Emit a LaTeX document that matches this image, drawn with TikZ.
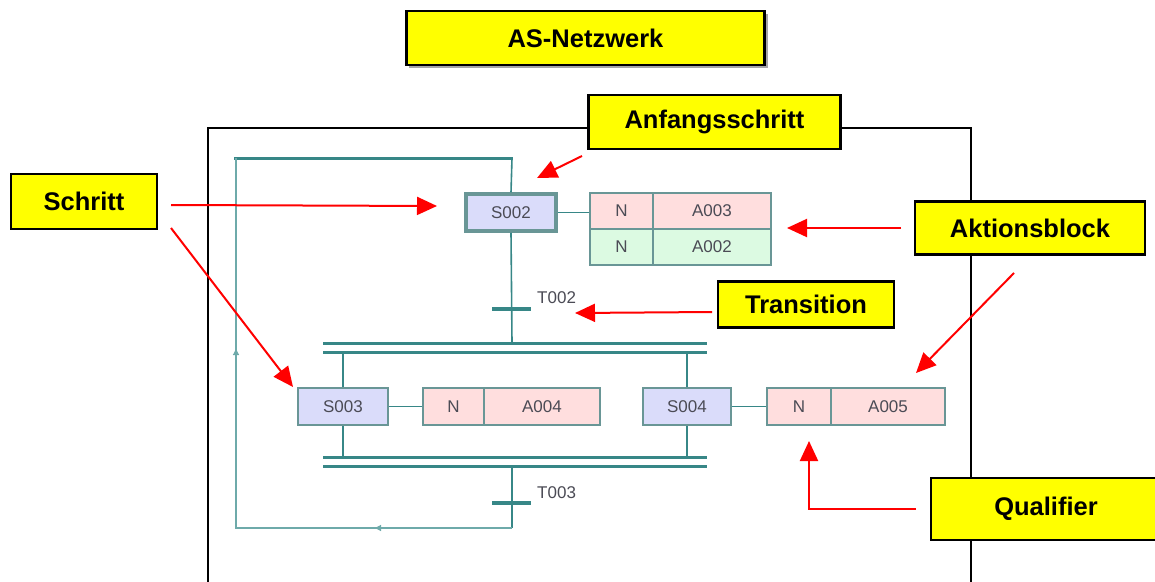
\documentclass[tikz,border=0pt]{standalone}
\usepackage{fontspec}
\setmainfont{Liberation Sans}
\usetikzlibrary{arrows.meta}
\definecolor{tealdark}{RGB}{55,135,135}
\definecolor{teallight}{RGB}{110,170,170}
\definecolor{stepfill}{RGB}{218,220,250}
\definecolor{pinkfill}{RGB}{255,222,222}
\definecolor{greenfill}{RGB}{220,250,226}
\definecolor{boxedge}{RGB}{105,150,150}
\definecolor{txtgray}{RGB}{75,75,85}
\definecolor{labelyellow}{RGB}{255,255,0}
\begin{document}
\begin{tikzpicture}[x=1pt,y=-1pt,
  labelbox/.style={draw=black, line width=2.5pt, fill=labelyellow, inner sep=0pt,
    font=\fontsize{25.5}{28}\selectfont\bfseries, text=black},
  stepbox/.style={draw=boxedge, line width=2pt, fill=stepfill, inner sep=0pt,
    minimum height=37pt, font=\fontsize{17}{19}\selectfont, text=txtgray},
  pinkcell/.style={draw=boxedge, line width=1.6pt, fill=pinkfill, inner sep=0pt,
    font=\fontsize{17}{19}\selectfont, text=txtgray},
  greencell/.style={pinkcell, fill=greenfill},
  thinline/.style={draw=tealdark, line width=1.6pt},
  loopline/.style={draw=teallight, line width=1.6pt},
  barline/.style={draw=tealdark, line width=3pt},
  transbar/.style={draw=tealdark, line width=3.5pt},
  translabel/.style={font=\fontsize{17}{19}\selectfont, text=txtgray, anchor=west, inner sep=0pt},
  redarrow/.style={draw=red, line width=2pt, -{Triangle[length=20pt,width=18pt]}},
  smallarrow/.style={draw=teallight, line width=1.2pt, -{Triangle[length=6pt,width=6pt]}}
]
\useasboundingbox (0,0) rectangle (1155,581);

% outer frame (open at the bottom)
\draw[black, line width=2.5pt] (208,590) -- (208,128) -- (971,128) -- (971,590);

% ---- SFC network ----
\coordinate (loopTL) at (236,158);
\coordinate (loopTR) at (513,158);
\coordinate (loopBL) at (236,528);
\coordinate (loopBR) at (512,528);
\coordinate (barTopL1) at (323,343);
\coordinate (barTopR1) at (707,343);
\coordinate (barTopL2) at (323,352);
\coordinate (barTopR2) at (707,352);
\coordinate (barBotL1) at (323,457);
\coordinate (barBotR1) at (707,457);
\coordinate (barBotL2) at (323,466);
\coordinate (barBotR2) at (707,466);

% steps
\node[stepbox, line width=3.5pt, minimum width=90pt] (s2) at (511,212.5) {S002};
\node[stepbox, minimum width=90pt] (s3) at (343,406.5) {S003};
\node[stepbox, minimum width=88pt] (s4) at (687,406.5) {S004};

% action blocks
\node[pinkcell, minimum width=63pt, minimum height=36pt] (a3n) at (621.5,211) {N};
\node[pinkcell, minimum width=118pt, minimum height=36pt] (a3a) at (712,211) {A003};
\node[greencell, minimum width=63pt, minimum height=36pt] (a2n) at (621.5,247) {N};
\node[greencell, minimum width=118pt, minimum height=36pt] (a2a) at (712,247) {A002};

\node[pinkcell, minimum width=61pt, minimum height=37pt] (a4n) at (453.5,406.5) {N};
\node[pinkcell, minimum width=116pt, minimum height=37pt] (a4a) at (542,406.5) {A004};

\node[pinkcell, minimum width=64pt, minimum height=37pt] (a5n) at (799,406.5) {N};
\node[pinkcell, minimum width=114pt, minimum height=37pt] (a5a) at (888,406.5) {A005};

% step-to-action links
\draw[thinline] (s2.east) -- (s2.east -| a3n.west);
\draw[thinline] (s3.east) -- (a4n.west);
\draw[thinline] (s4.east) -- (a5n.west);

% top bar of loop and main path
\draw[barline] (234,158) -- (loopTR);
\draw[thinline] (512,158) -- (s2.north);
\draw[thinline] (s2.south) -- (512,343);

% transition T002
\draw[transbar] (492,309) -- (531,309);
\node[translabel] (t2) at (537,298) {T002};

% parallel branch bars
\draw[barline] (barTopL1) -- (barTopR1);
\draw[barline] (barTopL2) -- (barTopR2);
\draw[thinline] (343,352) -- (s3.north);
\draw[thinline] (687,352) -- (s4.north);
\draw[thinline] (s3.south) -- (343,457);
\draw[thinline] (s4.south) -- (687,457);
\draw[barline] (barBotL1) -- (barBotR1);
\draw[barline] (barBotL2) -- (barBotR2);

% transition T003 and return loop
\draw[thinline] (512,466) -- (loopBR);
\draw[transbar] (492,503) -- (531,503);
\node[translabel] (t3) at (537,493) {T003};
\draw[loopline] (loopBR) -- (loopBL) -- (loopTL);
\draw[smallarrow] (386,528) -- (375,528);
\draw[smallarrow] (236,361) -- (236,349);

% ---- yellow labels ----
\fill[gray!70] (409,14) rectangle (768,68);
\node[labelbox, minimum width=358pt, minimum height=54pt] (title) at (585.5,38) {AS-Netzwerk};
\node[labelbox, minimum width=252pt, minimum height=54pt] (anf) at (714.5,122) {Anfangsschritt};
\node[labelbox, minimum width=146pt, minimum height=55pt] (schritt) at (84,201.5) {Schritt};
\node[labelbox, minimum width=230pt, minimum height=53pt] (akt) at (1030,228) {Aktionsblock};
\node[labelbox, minimum width=176pt, minimum height=46pt] (trans) at (806,304.5) {Transition};
\node[labelbox, minimum width=230pt, minimum height=62pt] (qual) at (1046,509) {Qualifier};

% ---- red arrows ----
\coordinate (anfS) at (582,156);
\coordinate (anfT) at (537,178);
\coordinate (schA) at (171,205);
\coordinate (schAT) at (437,206);
\coordinate (schB) at (171,228);
\coordinate (schBT) at (293,387);
\coordinate (aktA) at (901,228);
\coordinate (aktAT) at (787,228);
\coordinate (aktB) at (1014,273);
\coordinate (aktBT) at (916,373);
\coordinate (trS) at (712,312);
\coordinate (trT) at (575,313);
\coordinate (quS) at (916,509);
\coordinate (quT) at (809,441);

\draw[redarrow] (anfS) -- (anfT);
\draw[redarrow] (schA) -- (schAT);
\draw[redarrow] (schB) -- (schBT);
\draw[redarrow] (aktA) -- (aktAT);
\draw[redarrow] (aktB) -- (aktBT);
\draw[redarrow] (trS) -- (trT);
\draw[redarrow] (quS) -| (quT);
\end{tikzpicture}
\end{document}
